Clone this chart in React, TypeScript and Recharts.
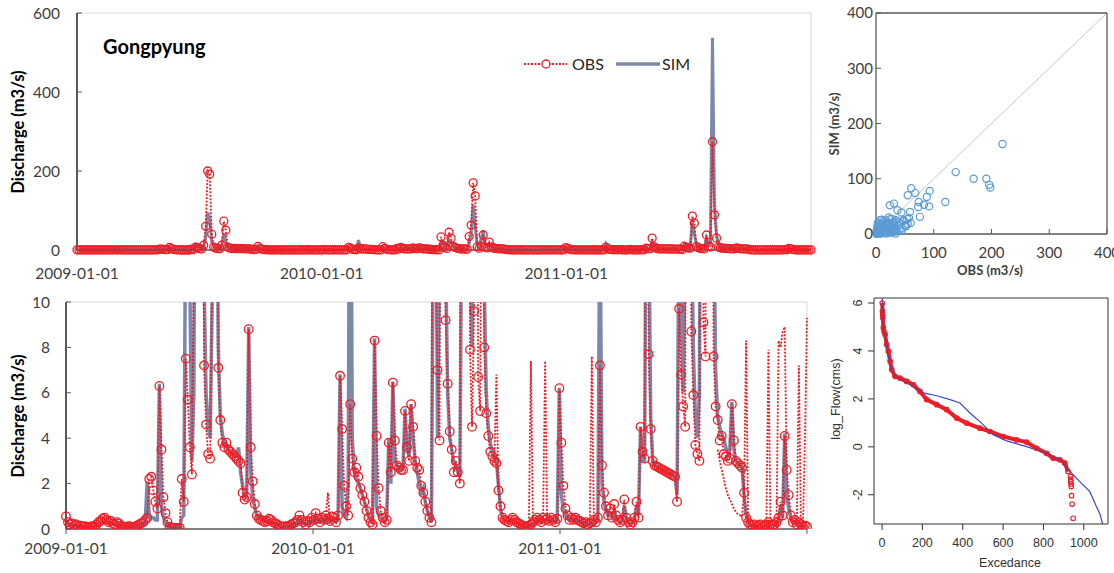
import React from 'react';
import {
  LineChart, Line, XAxis, YAxis, ReferenceLine, ScatterChart, Scatter, ComposedChart,
} from 'recharts';

// ---------------- DATA ----------------
// Daily discharge sampled every 3 days starting 2009-01-01 (day 0)
const DAY_STEP = 3;
const dateTickDays = [0, 365, 730, 1095];
const dateTickLabels = ['2009-01-01', '2010-01-01', '2011-01-01', ''];

const obsQ = [
  0.55, 0.3, 0.2, 0.25, 0.15, 0.2, 0.1, 0.15, 0.1, 0.12, // 0-27
  0.1, 0.08, 0.1, 0.12, 0.1, 0.2, 0.3, 0.35, 0.45, 0.5, // 30-57
  0.4, 0.3, 0.35, 0.25, 0.2, 0.3, 0.25, 0.15, 0.1, 0.08, // 60-87
  0.1, 0.12, 0.1, 0.08, 0.1, 0.15, 0.2, 0.25, 0.3, 0.4, // 90-117
  0.5, 2.2, 2.3, 1.7, 1.2, 0.9, 6.3, 3.5, 1.4, 0.7, // 120-147
  0.3, 0.1, 0.05, 0.05, 0.04, 0.05, 0.05, 2.2, 1.2, 7.5, // 150-177
  5.7, 3.6, 2.4, 12, 60, 200, 192, 40, 7.2, 4.6, // 180-207
  3.3, 3.1, 12, 73, 50, 7.1, 4.8, 3.8, 3.6, 3.8, // 210-237
  3.5, 3.4, 3.3, 3.2, 3.1, 3.0, 2.9, 1.6, 1.3, 1.4, // 240-267
  8.8, 3.6, 2.1, 1.1, 0.6, 0.45, 0.4, 0.35, 0.3, 0.35, // 270-297
  0.45, 0.4, 0.3, 0.25, 0.2, 0.15, 0.1, 0.1, 0.12, 0.1, // 300-327
  0.15, 0.2, 0.25, 0.3, 0.4, 0.6, 0.4, 0.3, 0.2, 0.35, // 330-357
  0.3, 0.5, 0.4, 0.7, 0.45, 0.3, 0.5, 0.4, 0.6, 0.45, // 360-387
  0.35, 0.55, 0.5, 0.3, 0.6, 6.75, 4.4, 1.9, 1.0, 0.6, // 390-417
  5.5, 3.1, 2.5, 2.7, 2.3, 1.8, 1.5, 1.2, 0.8, 0.5, // 420-447
  0.3, 0.2, 8.3, 4.1, 1.8, 0.8, 0.5, 0.3, 0.4, 3.8, // 450-477
  2.5, 6.45, 3.9, 2.8, 2.7, 2.6, 2.6, 5.2, 3.6, 3.0, // 480-507
  5.5, 4.5, 3.0, 2.7, 2.6, 1.9, 1.6, 1.2, 0.8, 0.5, // 510-537
  0.3, 33, 12, 7.0, 3.9, 45, 30, 9.2, 6.4, 4.3, // 540-567
  3.5, 2.5, 3.0, 2.5, 2.0, 34, 63, 170, 137, 7.9, // 570-597
  4.5, 9.6, 38, 6.7, 5.2, 20, 8.0, 5.1, 4.1, 3.4, // 600-627
  3.2, 3.0, 2.9, 1.7, 1.0, 0.5, 0.4, 0.35, 0.3, 0.4, // 630-657
  0.5, 0.4, 0.3, 0.25, 0.2, 0.15, 0.1, 0.1, 0.15, 0.2, // 660-687
  0.3, 0.4, 0.5, 0.4, 0.3, 0.5, 0.4, 0.45, 0.35, 0.5, // 690-717
  0.4, 0.3, 0.45, 6.2, 3.8, 1.9, 0.9, 0.6, 0.4, 0.5, // 720-747
  0.4, 0.5, 0.4, 0.35, 0.3, 0.25, 0.3, 0.2, 0.25, 0.3, // 750-777
  0.4, 0.3, 0.5, 7.2, 2.8, 1.6, 1.0, 0.6, 0.9, 0.5, // 780-807
  1.1, 0.6, 0.4, 0.3, 0.4, 1.3, 0.5, 0.3, 0.2, 0.3, // 810-837
  0.5, 1.2, 0.5, 4.5, 3.4, 3.1, 30, 7.7, 4.4, 3.0, // 840-867
  2.8, 2.75, 2.7, 2.65, 2.6, 2.55, 2.5, 2.45, 2.4, 2.35, // 870-897
  2.3, 1.2, 9.7, 6.8, 5.4, 4.5, 86, 68, 8.7, 5.9, // 900-927
  3.7, 3.3, 3.0, 38, 9.1, 7.6, 274, 89, 30, 7.6, // 930-957
  5.4, 4.8, 3.9, 4.1, 3.3, 3.2, 3.0, 3.1, 5.5, 3.9, // 960-987
  3.0, 2.9, 2.8, 2.7, 1.6, 0.5, 0.3, 0.2, 0.15, 0.2, // 990-1017
  0.1, 0.15, 0.2, 0.1, 0.15, 0.2, 0.3, 0.2, 0.15, 0.2, // 1020-1047
  0.3, 0.5, 1.2, 0.6, 4.1, 2.6, 1.5, 0.6, 0.3, 0.4, // 1050-1077
  0.2, 0.3, 0.2, 0.1, 0.15, 0.1, // 1080-1095
];

const simQ = [
  0.3, 0.25, 0.2, 0.2, 0.15, 0.15, 0.1, 0.1, 0.1, 0.1, // 0-27
  0.1, 0.1, 0.1, 0.1, 0.1, 0.15, 0.2, 0.25, 0.3, 0.35, // 30-57
  0.3, 0.25, 0.25, 0.2, 0.2, 0.2, 0.15, 0.15, 0.1, 0.1, // 60-87
  0.1, 0.1, 0.1, 0.1, 0.1, 0.1, 0.15, 0.2, 0.2, 0.3, // 90-117
  2.1, 0.6, 0.5, 0.5, 0.4, 0.4, 6.4, 1.0, 0.5, 0.3, // 120-147
  0.2, 0.1, 0.05, 0.05, 0.05, 0.05, 0.05, 0.5, 0.6, 15, // 150-177
  12, 11, 3, 6, 30, 95, 80, 20, 11, 6, // 180-207
  4.5, 4, 10, 40, 20, 8, 5, 4.2, 3.8, 3.6, // 210-237
  3.5, 3.4, 3.3, 3.2, 3.2, 3.6, 2.5, 1.9, 1.5, 1.4, // 240-267
  8.9, 2.5, 1.4, 0.9, 0.6, 0.5, 0.45, 0.4, 0.35, 0.3, // 270-297
  0.3, 0.3, 0.25, 0.2, 0.2, 0.15, 0.1, 0.1, 0.1, 0.1, // 300-327
  0.1, 0.15, 0.2, 0.2, 0.3, 0.4, 0.3, 0.25, 0.2, 0.25, // 330-357
  0.25, 0.35, 0.3, 0.5, 0.35, 0.3, 0.4, 0.3, 0.45, 0.35, // 360-387
  0.3, 0.4, 0.4, 0.3, 0.4, 6.8, 1.0, 0.6, 0.5, 2.0, // 390-417
  25, 4, 2.5, 2.2, 2.0, 1.8, 1.5, 1.2, 0.9, 0.6, // 420-447
  0.4, 0.3, 8.4, 1.0, 0.6, 0.5, 0.4, 0.3, 0.5, 4.0, // 450-477
  2.0, 6.5, 3.0, 2.8, 2.7, 2.6, 2.7, 5.3, 3.5, 3.2, // 480-507
  5.5, 4.0, 3.0, 2.5, 2.0, 1.6, 1.8, 1.2, 0.8, 0.5, // 510-537
  0.3, 15, 20, 4, 12, 25, 20, 12, 6, 4, // 540-567
  3.5, 3.0, 2.8, 2.5, 2.3, 15, 40, 114, 60, 14, // 570-597
  8, 30, 50, 15, 12, 14, 11, 6, 4.5, 3.8, // 600-627
  3.4, 3.2, 3.0, 2.0, 0.9, 0.5, 0.4, 0.35, 0.3, 0.35, // 630-657
  0.4, 0.35, 0.3, 0.25, 0.2, 0.15, 0.1, 0.1, 0.1, 0.15, // 660-687
  0.2, 0.3, 0.4, 0.35, 0.3, 0.4, 0.35, 0.4, 0.3, 0.4, // 690-717
  0.35, 0.3, 0.4, 6.2, 1.5, 0.8, 0.6, 0.5, 0.4, 0.4, // 720-747
  0.35, 0.4, 0.35, 0.3, 0.3, 0.25, 0.25, 0.2, 0.2, 0.25, // 750-777
  0.3, 0.3, 0.4, 15, 2.0, 1.2, 0.8, 0.6, 0.6, 0.5, // 780-807
  0.8, 0.5, 0.4, 0.3, 0.4, 1.0, 0.5, 0.3, 0.2, 0.3, // 810-837
  0.4, 1.0, 0.6, 4.5, 3.0, 3.0, 20, 15, 5, 3.0, // 840-867
  2.8, 2.75, 2.7, 2.65, 2.6, 2.55, 2.5, 2.45, 2.4, 2.35, // 870-897
  2.3, 1.5, 15, 10, 6, 12, 70, 40, 15, 8, // 900-927
  5, 4, 6, 30, 15, 20, 537, 120, 40, 15, // 930-957
  7, 5, 4.5, 4.2, 4.0, 3.6, 3.3, 3.5, 5.6, 3.5, // 960-987
  3.0, 2.9, 2.8, 2.7, 1.5, 0.6, 0.3, 0.2, 0.15, 0.15, // 990-1017
  0.1, 0.1, 0.15, 0.1, 0.1, 0.15, 0.2, 0.15, 0.1, 0.15, // 1020-1047
  0.2, 0.4, 1.0, 0.5, 4.2, 1.5, 0.9, 0.5, 0.3, 0.3, // 1050-1077
  0.2, 0.2, 0.15, 0.1, 0.1, 0.1, // 1080-1095
];

// Observed dotted traces drawn without markers (days on the same 3-day grid)
const obsTraceDays = [
  384, 387, 390,
  633, 636, 639,
  684, 687, 690,
  705, 708, 711,
  774, 777, 780,
  963, 966, 969, 972, 975, 978, 981, 984, 987, 990, 993, 996, 999, 1002, 1005, 1008,
  1035, 1038, 1041,
  1050, 1053, 1056, 1059, 1062, 1065,
  1080, 1083, 1086, 1089, 1092, 1095,
];
const obsTraceQ = [
  0.6, 1.6, 0.35,
  2.9, 6.8, 1.7,
  0.15, 7.4, 0.3,
  0.5, 7.4, 0.45,
  0.25, 7.6, 0.4,
  3.5, 3.0, 2.6, 2.2, 1.8, 1.5, 1.3, 1.1, 0.9, 0.75, 0.65, 0.6, 0.55, 1.6, 8.3, 0.3,
  0.15, 7.9, 0.2,
  0.3, 8.3, 8.0, 8.7, 8.9, 2.6,
  0.2, 7.2, 0.2, 0.1, 4.0, 9.3,
];

// Scatter: observed vs simulated (m3/s)
const scatterObs = [
  219, 138, 169, 191, 196, 198, 120, 61, 68, 55, 93, 88, 74, 83, 92, 73, 76, 31, 24, 37,
  44, 59, 60, 54, 47, 57, 52, 28, 22, 32, 17, 7, 10, 12, 15, 18, 20, 25, 30, 32,
  35, 38, 40, 42, 45, 50, 48, 55, 3, 6, 4, 7, 9, 11, 13, 16, 14, 17, 19, 21,
  24, 26, 29, 33, 36, 41, 44, 1, 2, 3, 5, 1, 0.5, 6, 8, 10, 12, 15, 18, 2,
  4, 5, 8, 10, 13, 20, 23, 27, 9, 11, 6, 3, 2, 1, 0.5, 22, 26, 30, 34, 28,
];
const scatterSim = [
  163, 112, 100, 100, 89, 84, 58, 83, 74, 70, 78, 67, 58, 53, 50, 49, 31, 55, 52, 43,
  39, 40, 20, 27, 23, 29, 14, 27, 30, 23, 20, 25, 26, 22, 25, 18, 10, 27, 20, 12,
  25, 15, 22, 18, 10, 15, 25, 18, 5, 8, 10, 3, 6, 4, 9, 7, 14, 11, 5, 8,
  6, 12, 9, 8, 5, 10, 6, 2, 8, 14, 17, 0.5, 1, 2, 1, 1.5, 3, 2, 1, 3,
  1, 5, 12, 18, 16, 15, 20, 16, 10, 13, 13, 20, 12, 5, 3, 3, 2, 4, 1, 6,
];
const oneToOne = [0, 400];

// Flow duration curve: exceedance rank vs log flow
const fdcSimRank = [0, 6, 23, 40, 64, 89, 139, 205, 271, 337, 386, 436, 493, 551, 617, 716, 815, 881, 931, 980, 1030, 1063, 1079, 1096];
const fdcSimLog = [6.4, 5.1, 4.1, 3.4, 3.0, 2.8, 2.6, 2.25, 2.13, 1.97, 1.83, 1.41, 0.99, 0.5, 0.25, 0.01, -0.27, -0.54, -1.03, -1.45, -1.87, -2.5, -2.78, -3.3];
const fdcObsRank = [1, 2, 3, 4, 6, 10, 15, 23, 31, 40, 48, 64, 89, 122, 155, 188, 221, 271, 320, 370, 419, 485, 535, 601, 667, 716, 766, 815, 848, 881, 906, 922];
const fdcObsLog = [6.0, 5.66, 5.52, 5.38, 4.97, 4.8, 4.69, 4.27, 3.99, 3.57, 3.22, 2.94, 2.87, 2.73, 2.59, 2.31, 1.97, 1.76, 1.55, 1.2, 0.99, 0.78, 0.64, 0.43, 0.29, 0.2, -0.06, -0.27, -0.47, -0.54, -0.68, -1.03];
const fdcObsTailRank = [934, 935, 936, 937, 938, 939, 942, 947];
const fdcObsTailLog = [-1.24, -1.35, -1.45, -1.55, -1.66, -2.04, -2.39, -2.98];

// ---------------- TABLES ----------------
const traceMap = new Map<number, number>();
obsTraceDays.forEach((d, i) => traceMap.set(d, obsTraceQ[i]));
const seriesTable = obsQ.map((v, i) => ({
  day: i * DAY_STEP,
  obs: v,
  sim: simQ[i],
  trace: traceMap.has(i * DAY_STEP) ? traceMap.get(i * DAY_STEP) : null,
}));
const scatterTable = scatterObs.map((o, i) => ({ obs: o, sim: scatterSim[i] }));
const fdcSimTable = fdcSimRank.map((e, i) => ({ e, l: fdcSimLog[i] }));
const fdcObsTable = fdcObsRank.map((e, i) => ({ e, l: fdcObsLog[i] }));
const fdcTailTable = fdcObsTailRank.map((e, i) => ({ e, l: fdcObsTailLog[i] }));

// ---------------- STYLE ----------------
const OBS_COLOR = '#ee1d25';
const SIM_COLOR = '#7b88aa';
const AXIS_DARK = '#595959';
const BORDER_LIGHT = '#d9d9d9';
const EXCEL_FONT = 'Lato, "Open Sans", sans-serif';
const R_FONT = '"Liberation Sans", Arial, sans-serif';
const R_INK = '#333333';

const fmtDate = (v: number) => {
  const i = dateTickDays.indexOf(v);
  return i >= 0 ? dateTickLabels[i] : '';
};

const obsDot = (r: number) => (props: any) => {
  const { cx, cy, index, value } = props;
  if (cx == null || cy == null || value == null) return <g key={`d${index}`} />;
  return <circle key={`d${index}`} cx={cx} cy={cy} r={r} fill="none" stroke={OBS_COLOR} strokeWidth={1.3} />;
};

const fdcDot = (props: any) => {
  const { cx, cy, index } = props;
  if (cx == null || cy == null) return <g key={`f${index}`} />;
  return <circle key={`f${index}`} cx={cx} cy={cy} r={2.3} fill="none" stroke={OBS_COLOR} strokeWidth={1.1} />;
};

const scatterShape = (props: any) => (
  <circle cx={props.cx} cy={props.cy} r={3.6} fill="none" stroke="#5b9bd5" strokeWidth={1.2} />
);

const RotYTick = (props: any) => {
  const { x, y, payload } = props;
  return (
    <text x={x} y={y} transform={`rotate(-90, ${x}, ${y})`} textAnchor="middle"
      fontSize={12.5} fontFamily={R_FONT} fill={R_INK}>{payload.value}</text>
  );
};

const Txt = ({ x, y, children, size, bold, rotate, family, color, anchor }: any) => (
  <div style={{
    position: 'absolute', left: x, top: y,
    transform: `translate(${anchor === 'start' ? '0' : '-50%'}, -50%)${rotate ? ' rotate(-90deg)' : ''}`,
    fontFamily: family, fontSize: size, fontWeight: bold ? 700 : 400, color,
    whiteSpace: 'nowrap', lineHeight: 1,
  }}>{children}</div>
);

const excelTick = { fill: '#404040', fontSize: 15.5, fontFamily: EXCEL_FONT };

export default function App() {
  return (
    <div style={{ position: 'absolute', left: 0, top: 0, width: 1114, height: 573, background: '#fff', overflow: 'hidden' }}>
      {/* Top-left: full range time series */}
      <div style={{ position: 'absolute', left: 0, top: 0 }}>
        <LineChart width={830} height={290} data={seriesTable} margin={{ top: 13, right: 19, bottom: 10, left: 17 }}>
          <XAxis dataKey="day" type="number" domain={[0, 1095]} ticks={dateTickDays} tickFormatter={fmtDate}
            interval={0} height={30} axisLine={{ stroke: AXIS_DARK, strokeWidth: 1.5 }}
            tickLine={{ stroke: '#bfbfbf' }} tickSize={6} tickMargin={12} tick={excelTick} />
          <YAxis type="number" domain={[0, 600]} ticks={[0, 200, 400, 600]} width={60}
            axisLine={{ stroke: AXIS_DARK, strokeWidth: 2 }} tickLine={{ stroke: AXIS_DARK }}
            tickSize={-5} tickMargin={22} tick={excelTick} />
          <ReferenceLine y={600} stroke={BORDER_LIGHT} ifOverflow="visible" />
          <ReferenceLine x={1095} stroke={BORDER_LIGHT} ifOverflow="visible" />
          <Line dataKey="sim" stroke={SIM_COLOR} strokeWidth={3} dot={false} isAnimationActive={false} />
          <Line dataKey="obs" stroke={OBS_COLOR} strokeWidth={1.8} strokeDasharray="2 1.5" dot={obsDot(4)} isAnimationActive={false} />
        </LineChart>
      </div>

      {/* Bottom-left: zoomed 0-10 */}
      <div style={{ position: 'absolute', left: 0, top: 285 }}>
        <LineChart width={830} height={288} data={seriesTable} margin={{ top: 17, right: 23, bottom: 14, left: 16 }}>
          <XAxis dataKey="day" type="number" domain={[0, 1095]} ticks={dateTickDays} tickFormatter={fmtDate}
            interval={0} height={30} axisLine={{ stroke: AXIS_DARK, strokeWidth: 1.5 }}
            tickLine={{ stroke: AXIS_DARK }} tickSize={5} tickMargin={9} tick={excelTick} />
          <YAxis type="number" domain={[0, 10]} ticks={[0, 2, 4, 6, 8, 10]} allowDataOverflow width={50}
            axisLine={{ stroke: AXIS_DARK, strokeWidth: 2 }} tickLine={{ stroke: AXIS_DARK }}
            tickSize={-5} tickMargin={21} tick={excelTick} />
          <ReferenceLine y={10} stroke={BORDER_LIGHT} ifOverflow="visible" />
          <ReferenceLine x={1095} stroke={BORDER_LIGHT} ifOverflow="visible" />
          <Line dataKey="sim" stroke={SIM_COLOR} strokeWidth={3.5} dot={false} isAnimationActive={false} />
          <Line dataKey="trace" stroke={OBS_COLOR} strokeWidth={1.8} strokeDasharray="2 1.5" dot={false}
            connectNulls={false} isAnimationActive={false} />
          <Line dataKey="obs" stroke={OBS_COLOR} strokeWidth={1.8} strokeDasharray="2 1.5" dot={obsDot(4.3)} isAnimationActive={false} />
        </LineChart>
      </div>

      {/* Top-right: scatter */}
      <div style={{ position: 'absolute', left: 820, top: 0 }}>
        <ScatterChart width={294} height={290} margin={{ top: 13, right: 7, bottom: 31, left: 16 }}>
          <XAxis type="number" dataKey="obs" domain={[0, 400]} ticks={[0, 100, 200, 300, 400]} interval={0} height={25}
            axisLine={{ stroke: AXIS_DARK, strokeWidth: 1.3 }} tickLine={{ stroke: AXIS_DARK }}
            tickSize={-5} tickMargin={18} tick={{ ...excelTick, fontSize: 15 }} />
          <YAxis type="number" dataKey="sim" domain={[0, 400]} ticks={[0, 100, 200, 300, 400]} interval={0} width={40}
            axisLine={{ stroke: AXIS_DARK, strokeWidth: 1.3 }} tickLine={{ stroke: AXIS_DARK }}
            tickSize={-5} tickMargin={8} tick={{ ...excelTick, fontSize: 15 }} />
          <ReferenceLine segment={[{ x: oneToOne[0], y: oneToOne[0] }, { x: oneToOne[1], y: oneToOne[1] }]}
            stroke="#c8c8c8" ifOverflow="visible" />
          <ReferenceLine y={400} stroke={AXIS_DARK} strokeWidth={1.3} ifOverflow="visible" />
          <ReferenceLine x={400} stroke={AXIS_DARK} strokeWidth={1.3} ifOverflow="visible" />
          <Scatter data={scatterTable} shape={scatterShape} isAnimationActive={false} />
        </ScatterChart>
      </div>

      {/* Bottom-right: flow duration curve */}
      <div style={{ position: 'absolute', left: 820, top: 285 }}>
        <ComposedChart width={294} height={288} margin={{ top: 13, right: 6, bottom: 14, left: 14 }}>
          <XAxis type="number" dataKey="e" domain={[-40, 1120]} ticks={[0, 200, 400, 600, 800, 1000]} interval={0}
            allowDataOverflow height={35} axisLine={{ stroke: R_INK }} tickLine={{ stroke: R_INK }}
            tickSize={6} tickMargin={8} tick={{ fill: R_INK, fontSize: 12.5, fontFamily: R_FONT }} />
          <YAxis type="number" dataKey="l" domain={[-3.22, 6.21]} ticks={[-2, 0, 2, 4, 6]} interval={0}
            allowDataOverflow width={40} axisLine={{ stroke: R_INK }} tickLine={{ stroke: R_INK }}
            tickSize={6} tickMargin={6} tick={<RotYTick />} />
          <ReferenceLine y={6.21} stroke={R_INK} ifOverflow="visible" />
          <ReferenceLine x={1120} stroke={R_INK} ifOverflow="visible" />
          <Line data={fdcObsTable} dataKey="l" stroke={OBS_COLOR} strokeWidth={4} dot={fdcDot} isAnimationActive={false} />
          <Scatter data={fdcTailTable} dataKey="l" shape={(p: any) => <circle cx={p.cx} cy={p.cy} r={2.3} fill="none" stroke={OBS_COLOR} strokeWidth={1.1} />} isAnimationActive={false} />
          <Line data={fdcSimTable} dataKey="l" stroke="#3b47c4" strokeWidth={1.2} dot={false} isAnimationActive={false} />
        </ComposedChart>
      </div>

      {/* Text overlays */}
      <Txt x={103} y={46} anchor="start" size={20} bold family={EXCEL_FONT} color="#000">Gongpyung</Txt>
      <Txt x={18} y={132} rotate size={16.5} bold family={EXCEL_FONT} color="#000">Discharge (m3/s)</Txt>
      <Txt x={18} y={416} rotate size={16.5} bold family={EXCEL_FONT} color="#000">Discharge (m3/s)</Txt>
      <Txt x={990} y={270} size={13} bold family={EXCEL_FONT} color="#404040">OBS (m3/s)</Txt>
      <Txt x={834} y={124} rotate size={13} bold family={EXCEL_FONT} color="#404040">SIM (m3/s)</Txt>
      <Txt x={1010} y={563} size={12.5} family={R_FONT} color={R_INK}>Excedance</Txt>
      <Txt x={836} y={399} rotate size={12.5} family={R_FONT} color={R_INK}>log_Flow(cms)</Txt>

      {/* Legend */}
      <svg style={{ position: 'absolute', left: 520, top: 52 }} width={180} height={24}>
        <line x1={4} x2={47} y1={12} y2={12} stroke={OBS_COLOR} strokeWidth={2} strokeDasharray="2 1.5" />
        <circle cx={26} cy={12} r={4} fill="#fff" stroke={OBS_COLOR} strokeWidth={1.3} />
        <text x={52} y={18} fontFamily={EXCEL_FONT} fontSize={16} fill="#262626">OBS</text>
        <line x1={96} x2={140} y1={12} y2={12} stroke={SIM_COLOR} strokeWidth={3.5} />
        <text x={142} y={18} fontFamily={EXCEL_FONT} fontSize={16} fill="#262626">SIM</text>
      </svg>
    </div>
  );
}
